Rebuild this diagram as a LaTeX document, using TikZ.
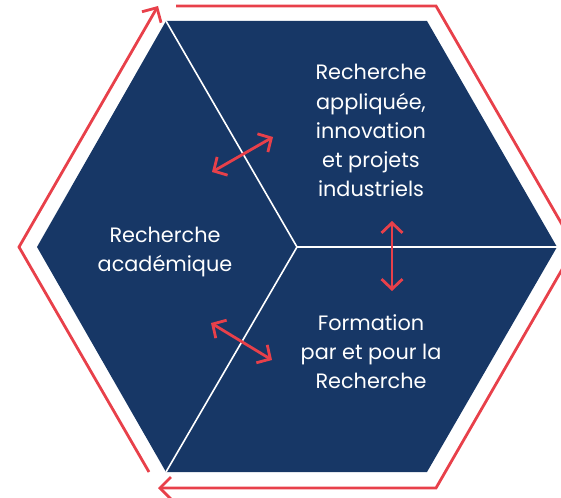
\documentclass[tikz,border=0pt]{standalone}
\usepackage{fontspec}
\setmainfont{Poppins}
\usetikzlibrary{arrows.meta}
\definecolor{hexblue}{HTML}{173766}
\definecolor{hexred}{HTML}{E8404A}
\tikzset{
  redline/.style={draw=hexred,line width=2.8pt,line join=miter},
  redtip/.style={-{Straight Barb[length=11pt,width=22pt]}},
  dbl/.style={redline,{Straight Barb[length=10pt,width=21pt]}-{Straight Barb[length=10pt,width=21pt]}},
  divider/.style={draw=white,line width=1.6pt},
  lbl/.style={text=white,font=\fontsize{20.8}{29}\selectfont,align=center,inner sep=0pt},
}
\begin{document}
\begin{tikzpicture}[x=1pt,y=-1pt]
\useasboundingbox (0,0) rectangle (561,497);
\clip (0,0) rectangle (561,497);
% blue hexagon
\coordinate (C) at (297,247);
\coordinate (TL) at (166,21);
\coordinate (TR) at (427,21);
\coordinate (R) at (557,247);
\coordinate (BR) at (427,472);
\coordinate (BL) at (166,472);
\coordinate (L) at (37,247);
\fill[hexblue] (TL) -- (TR) -- (R) -- (BR) -- (BL) -- (L) -- cycle;
\draw[divider] (C) -- (TL);
\draw[divider] (C) -- (R);
\draw[divider] (C) -- (BL);
% red outline
\coordinate (oTs) at (176,6);
\coordinate (oTR) at (436,6);
\coordinate (oR) at (575,247);
\coordinate (oBR) at (436,488);
\coordinate (oBe) at (158,488);
\coordinate (oBs) at (149,472);
\coordinate (oL) at (19,247);
\coordinate (oTe) at (158,6);
\draw[redline,redtip] (oTs) -- (oTR) -- (oR) -- (oBR) -- (oBe);
\draw[redline,redtip] (oBs) -- (oL) -- (oTe);
% labels (anchored at the baseline of their last line)
\node[lbl,anchor=base] (t1) at (371,196) {Recherche\\appliquée,\\innovation\\et projets\\industriels};
\node[lbl,anchor=base] (t2) at (165,271) {Recherche\\académique};
\node[lbl,anchor=base] (t3) at (371,388) {Formation\\par et pour la\\Recherche};
% double arrows
\coordinate (a1) at (212,172); \coordinate (b1) at (273,137);
\coordinate (a2) at (211,323); \coordinate (b2) at (272,360);
\coordinate (a3) at (392,221); \coordinate (b3) at (392,291);
\draw[dbl] (a1) -- (b1);
\draw[dbl] (a2) -- (b2);
\draw[dbl] (a3) -- (b3);
\end{tikzpicture}
\end{document}
